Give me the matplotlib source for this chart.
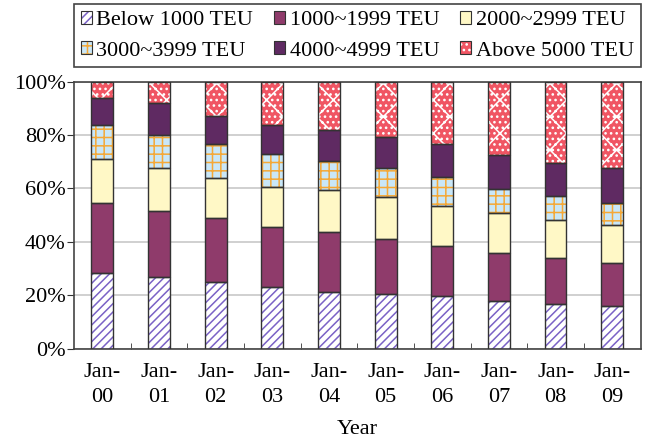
import numpy as np
import matplotlib.pyplot as plt
from matplotlib.patches import Patch
from matplotlib.legend_handler import HandlerTuple

plt.rcParams['font.family'] = ['Liberation Serif', 'DejaVu Serif']
plt.rcParams['hatch.linewidth'] = 1.1

# Data (share of fleet, %)
years = ['Jan-\n00', 'Jan-\n01', 'Jan-\n02', 'Jan-\n03', 'Jan-\n04',
         'Jan-\n05', 'Jan-\n06', 'Jan-\n07', 'Jan-\n08', 'Jan-\n09']
below_1000 = [28.5, 26.7, 24.9, 23.3, 21.4, 20.5, 19.8, 17.9, 16.9, 16.2]
teu_1000 = [25.9, 24.9, 24.1, 22.2, 22.4, 20.5, 18.6, 17.8, 17.2, 15.9]
teu_2000 = [16.7, 16.1, 15.1, 15.1, 15.8, 16.0, 15.1, 15.2, 14.2, 14.2]
teu_3000 = [12.5, 12.4, 12.6, 12.4, 10.7, 10.7, 10.7, 8.8, 8.8, 8.2]
teu_4000 = [10.2, 11.7, 10.6, 10.8, 11.7, 11.7, 12.5, 12.7, 12.4, 13.3]
above_5000 = [6.2, 8.2, 12.7, 16.2, 18.0, 20.6, 23.3, 27.6, 30.5, 32.2]

series = [below_1000, teu_1000, teu_2000, teu_3000, teu_4000, above_5000]
labels = ['Below 1000 TEU', '1000~1999 TEU', '2000~2999 TEU',
          '3000~3999 TEU', '4000~4999 TEU', 'Above 5000 TEU']
# (face, hatch, hatch colour)
styles = [('white', '////', '#7a62c6'),
          ('#8f3b6b', '', '#8f3b6b'),
          ('#fff8c6', '', '#fff8c6'),
          ('#c9e7f8', '++', '#f5a836'),
          ('#5f2a62', '', '#5f2a62'),
          ('#f05563', 'x...', 'white')]
outline = '#333333'
fs = 16

fig = plt.figure(figsize=(6.49, 4.41), dpi=100)
ax = fig.add_axes([0.114, 0.209, 0.873, 0.606])

x = np.arange(len(years))
w = 0.385
bottom = np.zeros(len(years))
handles = []
for vals, (fc, h, hc) in zip(series, styles):
    vals = np.array(vals)
    ax.bar(x, vals, w, bottom=bottom, color=fc, hatch=h, edgecolor=hc,
           linewidth=0, zorder=2)
    ax.bar(x, vals, w, bottom=bottom, fill=False, edgecolor=outline,
           linewidth=1.0, zorder=3)
    bottom += vals
    handles.append((Patch(facecolor=fc, hatch=h, edgecolor=hc, linewidth=0),
                    Patch(fill=False, edgecolor=outline, linewidth=0.8)))

ax.set_xlim(-0.5, len(years) - 0.5)
ax.set_ylim(0, 100)
ax.set_yticks(np.arange(0, 101, 20))
ax.set_yticklabels(['%d%%' % v for v in range(0, 101, 20)])
ax.set_xticks(x)
ax.set_xticklabels(years, linespacing=1.42)
ax.set_xticks(np.arange(0.5, len(years) - 1), minor=True)
ax.tick_params(axis='x', which='major', length=0, pad=10, labelsize=fs)
ax.tick_params(axis='x', which='minor', direction='in', length=4,
               color=outline)
ax.tick_params(axis='y', length=5, color=outline, labelsize=fs, pad=1)
ax.yaxis.grid(True, color='#c8c8c8', linewidth=1.2, zorder=0)
ax.set_axisbelow(True)
for s in ax.spines.values():
    s.set_color('#444444')
    s.set_linewidth(1.2)
ax.set_xlabel('Year', fontsize=fs, labelpad=10)

# legend fills column by column, so reorder to read row by row
order = [0, 3, 1, 4, 2, 5]
leg = fig.legend([handles[i] for i in order], [labels[i] for i in order],
                 handler_map={tuple: HandlerTuple(ndivide=1)},
                 loc='upper left', bbox_to_anchor=(0.114, 0.99, 0.873, 0),
                 mode='expand', ncol=3, fontsize=fs, frameon=True,
                 fancybox=False, framealpha=1, handlelength=0.5,
                 handleheight=0.5, handletextpad=0.2, columnspacing=0.6,
                 borderpad=0.3, labelspacing=0.5, borderaxespad=0)
leg.get_frame().set_edgecolor('#444444')
leg.get_frame().set_linewidth(1.2)

fig.savefig('out.png', dpi=100)
